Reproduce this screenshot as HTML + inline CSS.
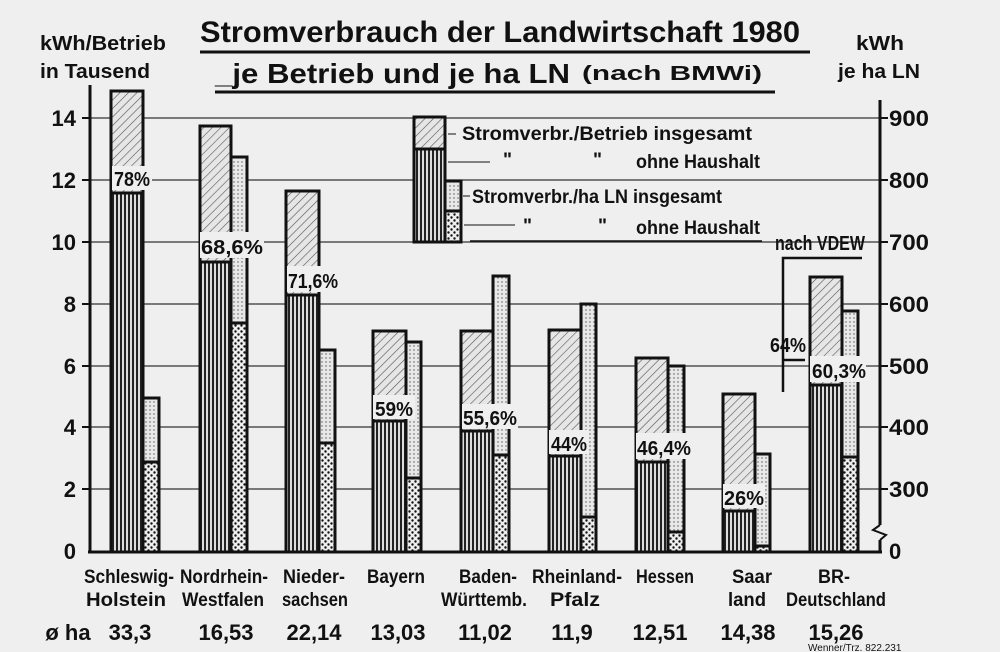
<!DOCTYPE html>
<html><head><meta charset="utf-8"><style>
body{margin:0;background:#efefef;}
svg{display:block;font-family:"Liberation Sans",sans-serif;font-weight:bold;fill:#111;}
</style></head><body>
<svg width="1000" height="652" viewBox="0 0 1000 652" xmlns="http://www.w3.org/2000/svg">
<defs>
<pattern id="hatch" width="6" height="6" patternUnits="userSpaceOnUse" patternTransform="rotate(45)">
<rect width="6" height="6" fill="#e6e6e6"/><line x1="0" y1="0" x2="0" y2="6" stroke="#555" stroke-width="1.2"/></pattern>
<pattern id="vert" width="4" height="4" patternUnits="userSpaceOnUse">
<rect width="4" height="4" fill="#ddd"/><rect width="2" height="4" fill="#222"/></pattern>
<pattern id="dotl" width="4" height="4" patternUnits="userSpaceOnUse">
<rect width="4" height="4" fill="#e8e8e8"/><circle cx="2" cy="2" r="0.7" fill="#555"/></pattern>
<pattern id="dotc" width="6" height="6" patternUnits="userSpaceOnUse">
<rect width="6" height="6" fill="#eee"/><circle cx="1.5" cy="1.5" r="1.2" fill="#111"/><circle cx="4.5" cy="4.5" r="1.2" fill="#111"/></pattern>
</defs>
<rect width="1000" height="652" fill="#efefef"/>
<g stroke="#333" stroke-width="1.2">
<line x1="90" y1="118" x2="880" y2="118"/><line x1="90" y1="180" x2="880" y2="180"/>
<line x1="90" y1="242" x2="880" y2="242"/><line x1="90" y1="304" x2="880" y2="304"/>
<line x1="90" y1="366" x2="880" y2="366"/><line x1="90" y1="427" x2="880" y2="427"/>
<line x1="90" y1="489" x2="880" y2="489"/>
</g>
<g stroke="#111" stroke-width="3">
<line x1="90" y1="85" x2="90" y2="552"/><line x1="880" y1="100" x2="880" y2="525"/>
<line x1="880" y1="540" x2="880" y2="552"/><line x1="88" y1="552" x2="882" y2="552"/>
<polyline points="880,525 873,530 886,535 880,540" fill="none" stroke-width="2"/>
</g>
<g stroke="#111" stroke-width="2">
<line x1="82" y1="118" x2="90" y2="118"/><line x1="82" y1="180" x2="90" y2="180"/><line x1="82" y1="242" x2="90" y2="242"/><line x1="82" y1="304" x2="90" y2="304"/><line x1="82" y1="366" x2="90" y2="366"/><line x1="82" y1="427" x2="90" y2="427"/><line x1="82" y1="489" x2="90" y2="489"/>
<line x1="880" y1="118" x2="888" y2="118"/><line x1="880" y1="180" x2="888" y2="180"/><line x1="880" y1="242" x2="888" y2="242"/><line x1="880" y1="304" x2="888" y2="304"/><line x1="880" y1="366" x2="888" y2="366"/><line x1="880" y1="427" x2="888" y2="427"/><line x1="880" y1="489" x2="888" y2="489"/>
</g>
<g font-size="22" text-anchor="end">
<text x="76" y="126">14</text><text x="76" y="188">12</text><text x="76" y="250">10</text><text x="76" y="312">8</text><text x="76" y="374">6</text><text x="76" y="435">4</text><text x="76" y="497">2</text><text x="76" y="559">0</text>
</g>
<g font-size="22" lengthAdjust="spacingAndGlyphs">
<text x="889" y="126" textLength="40" lengthAdjust="spacingAndGlyphs">900</text><text x="889" y="188" textLength="40" lengthAdjust="spacingAndGlyphs">800</text><text x="889" y="250" textLength="40" lengthAdjust="spacingAndGlyphs">700</text><text x="889" y="312" textLength="40" lengthAdjust="spacingAndGlyphs">600</text><text x="889" y="374" textLength="40" lengthAdjust="spacingAndGlyphs">500</text><text x="889" y="435" textLength="40" lengthAdjust="spacingAndGlyphs">400</text><text x="889" y="497" textLength="40" lengthAdjust="spacingAndGlyphs">300</text><text x="889" y="559">0</text>
</g>
<text x="40" y="50" font-size="20" textLength="126" lengthAdjust="spacingAndGlyphs">kWh/Betrieb</text>
<text x="40" y="78" font-size="20" textLength="110" lengthAdjust="spacingAndGlyphs">in Tausend</text>
<text x="856" y="50" font-size="20" textLength="48" lengthAdjust="spacingAndGlyphs">kWh</text>
<text x="838" y="78" font-size="20" textLength="82" lengthAdjust="spacingAndGlyphs">je ha LN</text>
<text x="200" y="42" font-size="30" textLength="600" lengthAdjust="spacingAndGlyphs">Stromverbrauch der Landwirtschaft 1980</text>
<line x1="200" y1="52" x2="810" y2="52" stroke="#111" stroke-width="3"/>
<text x="215" y="83" font-size="28" textLength="355" lengthAdjust="spacingAndGlyphs">_je Betrieb und je ha LN</text>
<text x="582" y="80" font-size="20" textLength="180" lengthAdjust="spacingAndGlyphs">(nach BMWi)</text>
<line x1="215" y1="92" x2="775" y2="92" stroke="#111" stroke-width="3"/>
<g stroke="#111" stroke-width="3">
<rect x="111" y="91" width="32" height="461" fill="url(#hatch)"/><rect x="111" y="193" width="32" height="359" fill="url(#vert)"/>
<rect x="143" y="398" width="16" height="154" fill="url(#dotl)"/><rect x="143" y="462" width="16" height="90" fill="url(#dotc)"/>
<rect x="200" y="126" width="31" height="426" fill="url(#hatch)"/><rect x="200" y="262" width="31" height="290" fill="url(#vert)"/>
<rect x="231" y="157" width="16" height="395" fill="url(#dotl)"/><rect x="231" y="323" width="16" height="229" fill="url(#dotc)"/>
<rect x="286" y="191" width="33" height="361" fill="url(#hatch)"/><rect x="286" y="295" width="33" height="257" fill="url(#vert)"/>
<rect x="319" y="350" width="16" height="202" fill="url(#dotl)"/><rect x="319" y="443" width="16" height="109" fill="url(#dotc)"/>
<rect x="373" y="331" width="33" height="221" fill="url(#hatch)"/><rect x="373" y="421" width="33" height="131" fill="url(#vert)"/>
<rect x="406" y="342" width="15" height="210" fill="url(#dotl)"/><rect x="406" y="478" width="15" height="74" fill="url(#dotc)"/>
<rect x="461" y="331" width="32" height="221" fill="url(#hatch)"/><rect x="461" y="431" width="32" height="121" fill="url(#vert)"/>
<rect x="493" y="276" width="16" height="276" fill="url(#dotl)"/><rect x="493" y="455" width="16" height="97" fill="url(#dotc)"/>
<rect x="549" y="330" width="32" height="222" fill="url(#hatch)"/><rect x="549" y="456" width="32" height="96" fill="url(#vert)"/>
<rect x="581" y="304" width="15" height="248" fill="url(#dotl)"/><rect x="581" y="517" width="15" height="35" fill="url(#dotc)"/>
<rect x="636" y="358" width="32" height="194" fill="url(#hatch)"/><rect x="636" y="462" width="32" height="90" fill="url(#vert)"/>
<rect x="668" y="366" width="16" height="186" fill="url(#dotl)"/><rect x="668" y="532" width="16" height="20" fill="url(#dotc)"/>
<rect x="723" y="394" width="32" height="158" fill="url(#hatch)"/><rect x="723" y="511" width="32" height="41" fill="url(#vert)"/>
<rect x="755" y="454" width="15" height="98" fill="url(#dotl)"/><rect x="755" y="546" width="15" height="6" fill="url(#dotc)"/>
<rect x="810" y="277" width="32" height="275" fill="url(#hatch)"/><rect x="810" y="385" width="32" height="167" fill="url(#vert)"/>
<rect x="842" y="311" width="16" height="241" fill="url(#dotl)"/><rect x="842" y="457" width="16" height="95" fill="url(#dotc)"/>
<rect x="414" y="117" width="31" height="125" fill="url(#hatch)"/><rect x="414" y="149" width="31" height="93" fill="url(#vert)"/>
<rect x="445" y="181" width="16" height="61" fill="url(#dotl)"/><rect x="445" y="211" width="16" height="31" fill="url(#dotc)"/>
</g>
<g font-size="20">
<rect x="112" y="166" width="40" height="24" fill="#efefef"/><text x="114" y="186" textLength="36" lengthAdjust="spacingAndGlyphs">78%</text>
<rect x="200" y="232" width="64" height="26" fill="#efefef"/><text x="201" y="254" textLength="62" lengthAdjust="spacingAndGlyphs">68,6%</text>
<rect x="287" y="266" width="52" height="26" fill="#efefef"/><text x="288" y="288" textLength="50" lengthAdjust="spacingAndGlyphs">71,6%</text>
<rect x="373" y="395" width="42" height="24" fill="#efefef"/><text x="375" y="416" textLength="38" lengthAdjust="spacingAndGlyphs">59%</text>
<rect x="462" y="404" width="56" height="25" fill="#efefef"/><text x="463" y="425" textLength="54" lengthAdjust="spacingAndGlyphs">55,6%</text>
<rect x="549" y="430" width="40" height="24" fill="#efefef"/><text x="551" y="451" textLength="36" lengthAdjust="spacingAndGlyphs">44%</text>
<rect x="636" y="433" width="56" height="26" fill="#efefef"/><text x="637" y="455" textLength="54" lengthAdjust="spacingAndGlyphs">46,4%</text>
<rect x="723" y="484" width="42" height="24" fill="#efefef"/><text x="724" y="505" textLength="40" lengthAdjust="spacingAndGlyphs">26%</text>
<rect x="810" y="356" width="56" height="26" fill="#efefef"/><text x="812" y="378" textLength="54" lengthAdjust="spacingAndGlyphs">60,3%</text>
<text x="770" y="352" textLength="36" lengthAdjust="spacingAndGlyphs">64%</text>
</g>
<text x="775" y="250" font-size="20" textLength="90" lengthAdjust="spacingAndGlyphs">nach VDEW</text>
<g stroke="#111" stroke-width="2.5" fill="none">
<polyline points="783,392 783,258 862,258"/>
<line x1="783" y1="360" x2="805" y2="360"/>
</g>
<g stroke="#111" stroke-width="1">
<line x1="448" y1="134" x2="456" y2="134"/><line x1="448" y1="162" x2="490" y2="162"/>
<line x1="463" y1="196" x2="470" y2="196"/><line x1="464" y1="225" x2="515" y2="225"/>
</g>
<g font-size="19">
<text x="462" y="140" textLength="290" lengthAdjust="spacingAndGlyphs">Stromverbr./Betrieb insgesamt</text>
<text x="503" y="166">"</text><text x="593" y="166">"</text>
<text x="636" y="168" textLength="124" lengthAdjust="spacingAndGlyphs">ohne Haushalt</text>
<text x="472" y="203" textLength="250" lengthAdjust="spacingAndGlyphs">Stromverbr./ha LN insgesamt</text>
<text x="523" y="232">"</text><text x="598" y="232">"</text>
<text x="636" y="234" textLength="124" lengthAdjust="spacingAndGlyphs">ohne Haushalt</text>
</g>
<line x1="470" y1="241" x2="762" y2="241" stroke="#111" stroke-width="1.5"/>
<g font-size="19">
<text x="84" y="583" textLength="90" lengthAdjust="spacingAndGlyphs">Schleswig-</text><text x="86" y="606" textLength="80" lengthAdjust="spacingAndGlyphs">Holstein</text>
<text x="180" y="583" textLength="88" lengthAdjust="spacingAndGlyphs">Nordrhein-</text><text x="182" y="606" textLength="82" lengthAdjust="spacingAndGlyphs">Westfalen</text>
<text x="283" y="583" textLength="62" lengthAdjust="spacingAndGlyphs">Nieder-</text><text x="282" y="606" textLength="66" lengthAdjust="spacingAndGlyphs">sachsen</text>
<text x="367" y="583" textLength="58" lengthAdjust="spacingAndGlyphs">Bayern</text>
<text x="459" y="583" textLength="58" lengthAdjust="spacingAndGlyphs">Baden-</text><text x="441" y="606" textLength="86" lengthAdjust="spacingAndGlyphs">Württemb.</text>
<text x="532" y="583" textLength="90" lengthAdjust="spacingAndGlyphs">Rheinland-</text><text x="550" y="606" textLength="50" lengthAdjust="spacingAndGlyphs">Pfalz</text>
<text x="636" y="583" textLength="58" lengthAdjust="spacingAndGlyphs">Hessen</text>
<text x="732" y="583" textLength="40" lengthAdjust="spacingAndGlyphs">Saar</text><text x="728" y="606" textLength="38" lengthAdjust="spacingAndGlyphs">land</text>
<text x="818" y="583" textLength="32" lengthAdjust="spacingAndGlyphs">BR-</text><text x="786" y="606" textLength="100" lengthAdjust="spacingAndGlyphs">Deutschland</text>
</g>
<g font-size="22" text-anchor="middle">
<text x="68" y="640">ø ha</text>
<text x="130" y="640">33,3</text><text x="226" y="640">16,53</text><text x="314" y="640">22,14</text>
<text x="398" y="640">13,03</text><text x="485" y="640">11,02</text><text x="572" y="640">11,9</text>
<text x="660" y="640">12,51</text><text x="748" y="640">14,38</text><text x="836" y="640">15,26</text>
</g>
<text x="808" y="651" font-size="10" font-weight="normal">Wenner/Trz. 822.231</text>
</svg>
</body></html>
